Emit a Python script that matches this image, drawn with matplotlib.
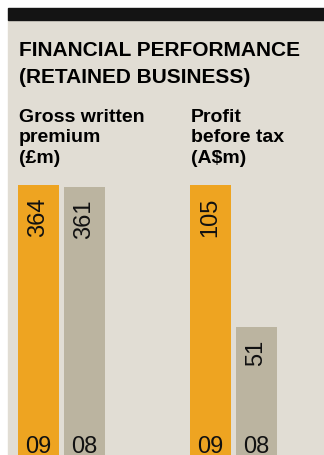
import matplotlib.pyplot as plt
from matplotlib.patches import Rectangle

plt.rcParams['font.family'] = ['Liberation Sans', 'DejaVu Sans']

# figures for the two panels, this year first
years = ["09", "08"]
premium = [364, 361]
profit = [105, 51]

orange = "#EEA421"
grey = "#BBB4A0"
beige = "#E1DDD4"

W, H = 324, 455
fig = plt.figure(figsize=(W / 100, H / 100), dpi=100)
fig.patch.set_facecolor("white")

# panel background and the black rule across the top
fig.patches.append(Rectangle((8 / W, 0), 1 - 8 / W, (H - 20) / H,
                             transform=fig.transFigure, color=beige, zorder=-2))
fig.patches.append(Rectangle((8 / W, (H - 20) / H), 1 - 8 / W, 12 / H,
                             transform=fig.transFigure, color="#141414", zorder=-2))


def px(x, y):
    # pixel position (from top-left) to figure fraction
    return x / W, 1 - y / H


fig.text(*px(19, 56), "FINANCIAL PERFORMANCE", fontsize=15, fontweight="bold", va="baseline")
fig.text(*px(19, 83), "(RETAINED BUSINESS)", fontsize=15, fontweight="bold", va="baseline")

for x, lines in [(19, ["Gross written", "premium", "(£m)"]),
                 (191, ["Profit", "before tax", "(A$m)"])]:
    for i, line in enumerate(lines):
        fig.text(*px(x, 122 + i * 20.5), line, fontsize=14, fontweight="bold", va="baseline")


def panel(left, values, top):
    # axis runs from y=461px (zero) up to the top of the tallest bar
    bottom_px, top_px = 461, 185
    ax = fig.add_axes([left / W, 1 - bottom_px / H, 87 / W, (bottom_px - top_px) / H])
    ax.set_facecolor("none")
    w = 41 / 46
    ax.bar([0, 1], values, width=w, color=[orange, grey])
    ax.set_xlim(-w / 2, 1 + w / 2)
    ax.set_ylim(0, top)
    ax.axis("off")
    for i, v in enumerate(values):
        ax.annotate(str(v), (i, v), xytext=(0, -9), textcoords="offset points",
                    rotation=90, ha="center", va="top", fontsize=17, color="#111111")
        ax.annotate(years[i], (i, 0), xytext=(0, 5.5), textcoords="offset points",
                    ha="center", va="baseline", fontsize=17, color="#111111",
                    annotation_clip=False)
    return ax


panel(18, premium, 364)
panel(190, profit, 105)

fig.savefig("out.png", dpi=100, facecolor=fig.get_facecolor())
